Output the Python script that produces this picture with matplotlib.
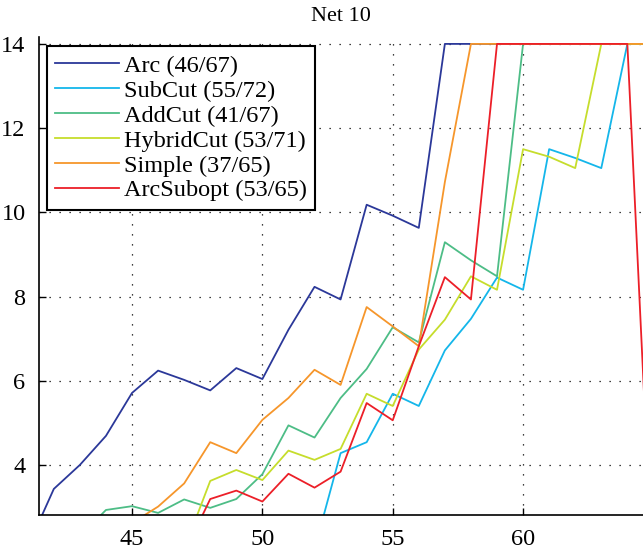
import matplotlib
matplotlib.use('Agg')
import matplotlib.pyplot as plt
import numpy as np

nan = np.nan
X = list(range(41, 66))

# values, x = 41 .. 65 (nan = not visible)
ARC = [2.05, 3.43, 4.0, 4.69, 5.71, 6.24, 6.02, 5.77, 6.30, 6.04, 7.21, 8.23, 7.93,
       10.18, 9.92, 9.63, 14, 14, 14, 14, 14, 14, 14, 14, 14]
SUBCUT = [nan, nan, nan, nan, nan, nan, nan, nan, nan, nan, nan, 2.0, 4.28,
          4.54, 5.69, 5.40, 6.72, 7.47, 8.45, 8.16, 11.5, 11.29, 11.05, 14, 14]
ADDCUT = [nan, nan, 2.3, 2.93, 3.02, 2.86, 3.18, 2.98, 3.19, 3.78, 4.94, 4.65, 5.59,
          6.28, 7.27, 6.91, 9.29, 8.86, 8.48, 14, 14, 14, 14, 14, 14]
HYBRIDCUT = [nan, nan, nan, nan, nan, nan, 2.0, 3.62, 3.88, 3.64, 4.34, 4.12, 4.38,
             5.69, 5.40, 6.74, 7.45, 8.48, 8.16, 11.5, 11.32, 11.05, 14, 14, 14]
SIMPLE = [nan, nan, nan, nan, 2.62, 3.01, 3.56, 4.54, 4.28, 5.07, 5.59, 6.26, 5.90,
          7.75, 7.29, 6.82, 10.72, 14, 14, 14, 14, 14, 14, 14, 14]
ARCSUBOPT = [nan, nan, nan, nan, nan, nan, 1.9, 3.19, 3.39, 3.13, 3.79, 3.46, 3.84,
             5.47, 5.06, 6.82, 8.46, 7.93, 14, 14, 14, 14, 14, 14, 1.0]

SERIES = [
    ('Arc (46/67)', ARC, '#2b3899'),
    ('SubCut (55/72)', SUBCUT, '#14b6ea'),
    ('AddCut (41/67)', ADDCUT, '#4dbd86'),
    ('HybridCut (53/71)', HYBRIDCUT, '#c6dd2c'),
    ('Simple (37/65)', SIMPLE, '#f6962b'),
    ('ArcSubopt (53/65)', ARCSUBOPT, '#ec1f28'),
]

plt.rcParams['font.family'] = ['Liberation Serif', 'DejaVu Serif']
plt.rcParams['font.size'] = 17.5

fig = plt.figure(figsize=(6.43, 5.51), dpi=100)
ax = fig.add_axes([0.0614, 0.0653, 0.9386, 0.868])

for label, vals, color in SERIES:
    ax.plot(X, vals, color=color, lw=1.3, label=label)

ax.set_xlim(41.45, 64.6)
ax.set_ylim(2.81, 14.17)
ax.set_xticks([45, 50, 55, 60])
ax.set_yticks([4, 6, 8, 10, 12, 14])
ax.grid(True, color='black', linestyle=(0, (1, 7)), lw=0.9)
ax.tick_params(direction='in', length=5, width=1, labelsize=17.5)
ax.tick_params(axis='x', pad=10)
ax.tick_params(axis='y', pad=10)
for s in ['top', 'right']:
    ax.spines[s].set_visible(False)
for s in ['left', 'bottom']:
    ax.spines[s].set_linewidth(1.2)

ax.set_title('Net 10', fontsize=16, pad=11)

leg = ax.legend(loc='upper left', bbox_to_anchor=(0.0124, 0.98), borderaxespad=0,
                fancybox=False, framealpha=1, edgecolor='black', fontsize=17.5,
                handlelength=2.6, handletextpad=0.2, labelspacing=0.12,
                borderpad=0.35)
leg.get_frame().set_linewidth(1.5)

fig.savefig('out.png', dpi=100)
